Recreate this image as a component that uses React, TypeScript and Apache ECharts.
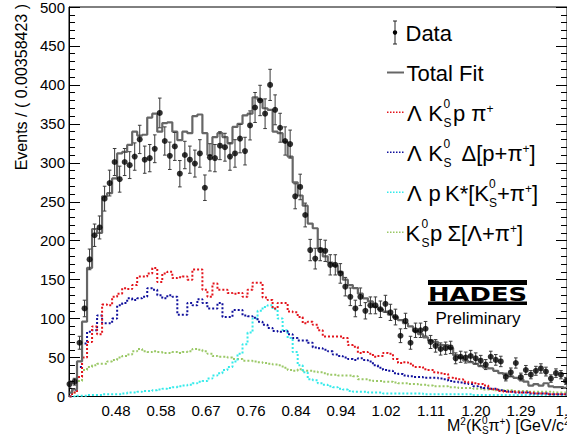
import React, { useEffect, useRef } from "react";
import * as echarts from "echarts";

const FONT = "'Liberation Sans', Arial, Helvetica, sans-serif";

// histogram binning (bin centres)
const BIN_START = 0.387;
const BIN_WIDTH = 0.01003;

const X_MIN = 0.386;
const X_MAX = 1.382;
const X_TICK_VALUES = [0.48, 0.57, 0.66, 0.75, 0.84, 0.93, 1.02, 1.11, 1.2, 1.29, 1.38];
const X_TICK_LABELS = ["0.48", "0.58", "0.67", "0.76", "0.84", "0.94", "1.02", "1.11", "1.20", "1.29", "1.4"];

const DATA_COUNTS = [
  16, 19, 69, 113, 176, 207, 217, 254, 274, 301,
  279, 301, 297, 308, 330, 304, 306, 318, 364, 328,
  309, 321, 286, 310, 304, 299, 312, 268, 307, 306,
  322, 320, 308, 312, 331, 315, 348, 371, 380, 363,
  400, 368, 345, 328, 324, 257, 269, 233, 188, 177,
  188, 187, 169, 169, 158, 141, 128, 113, 128, 110,
  117, 117, 112, 119, 108, 102, 78, 97, 69, 85,
  85, 87, 70, 65, 61, 62, 63, 49, 51, 50,
  52, 49, 46, 41, 51, 47, 45, 25, 31, 43,
  25, 34, 28, 33, 36, 32, 23, 30, 28, 20,
];

const TOTAL_FIT = [
  5, 9, 45, 96, 165, 215, 210, 257, 261, 280,
  312, 314, 323, 340, 335, 336, 358, 363, 340, 351,
  352, 340, 329, 340, 338, 360, 362, 338, 310, 333,
  338, 333, 325, 346, 350, 361, 363, 384, 381, 370,
  368, 340, 338, 327, 308, 275, 258, 245, 222, 216,
  190, 180, 172, 168, 160, 150, 143, 139, 132, 126,
  122, 115, 112, 109, 105, 102, 98, 94, 90, 84,
  80, 76, 72, 70, 66, 66, 62, 53, 50, 46,
  44, 42, 39, 37, 36, 33, 30, 28, 26, 24,
  22, 19, 14, 16, 14, 17, 13, 12, 12, 11,
];

// Λ K0S p π+ (red)
const LAMBDA_K0_P_PI = [
  0, 5, 25, 50, 70, 90, 80, 118, 117, 128,
  132, 139, 138, 143, 154, 154, 158, 165, 147, 158,
  160, 152, 153, 154, 150, 163, 163, 137, 128, 145,
  137, 137, 133, 132, 133, 128, 137, 146, 146, 127,
  124, 113, 120, 120, 109, 108, 102, 94, 96, 92,
  85, 77, 77, 77, 77, 75, 66, 64, 56, 57,
  55, 51, 52, 56, 55, 48, 43, 44, 42, 38,
  38, 35, 34, 31, 30, 29, 24, 23, 22, 19,
  18, 17, 16, 14, 10, 9, 7, 6, 6, 6,
  5, 5, 5, 4, 4, 4, 3, 3, 3, 3,
];

// Λ K0S Δ[p+π+] (blue)
const LAMBDA_K0_DELTA = [
  0, 8, 38, 68, 83, 85, 104, 94, 94, 100,
  117, 120, 126, 124, 126, 128, 139, 137, 130, 126,
  130, 128, 105, 105, 120, 117, 125, 120, 113, 113,
  120, 102, 102, 111, 111, 104, 103, 101, 96, 92,
  88, 84, 83, 84, 80, 75, 72, 72, 69, 63,
  62, 60, 58, 54, 52, 50, 48, 47, 49, 47,
  45, 40, 37, 34, 33, 30, 29, 27, 26, 25,
  25, 24, 24, 24, 23, 22, 20, 19, 18, 17,
  16, 13, 12, 11, 10, 10, 8, 7, 6, 5,
  5, 5, 4, 4, 4, 4, 3, 3, 3, 3,
];

// Λ p K*[K0S+π+] (cyan)
const LAMBDA_P_KSTAR = [
  0, 0, 1, 1, 2, 2, 2, 3, 3, 3,
  3, 4, 5, 5, 6, 7, 7, 8, 9, 10,
  11, 12, 13, 14, 15, 17, 19, 20, 23, 27,
  30, 34, 38, 45, 55, 67, 82, 100, 110, 115,
  117, 112, 100, 85, 75, 57, 40, 31, 22, 21,
  17, 15, 13, 12, 10, 9, 7, 6, 6, 6,
  5, 5, 5, 4, 4, 4, 4, 4, 4, 4,
  4, 3, 3, 3, 3, 3, 3, 3, 3, 3,
  3, 2, 2, 2, 2, 2, 2, 2, 2, 2,
  2, 2, 2, 2, 2, 2, 2, 2, 2, 2,
];

// K0S p Σ[Λ+π+] (green)
const K0_P_SIGMA = [
  0, 5, 20, 34, 38, 40, 42, 42, 45, 47,
  50, 52, 54, 58, 61, 58, 57, 58, 57, 56,
  56, 57, 56, 57, 58, 61, 60, 58, 55, 52,
  51, 51, 50, 48, 48, 46, 46, 45, 44, 43,
  42, 41, 40, 37, 34, 33, 35, 33, 33, 32,
  31, 30, 28, 28, 27, 27, 27, 26, 22, 22,
  21, 20, 20, 19, 19, 18, 17, 17, 16, 16,
  15, 15, 14, 13, 13, 13, 12, 12, 11, 11,
  11, 10, 10, 9, 9, 8, 8, 8, 8, 7,
  7, 7, 6, 6, 6, 6, 6, 5, 5, 5,
];

const C_RED = "#e3141c";
const C_BLUE = "#10109c";
const C_CYAN = "#33eaea";
const C_GREEN = "#9ac866";
const C_FIT = "#666666";

const binCenters = DATA_COUNTS.map((_, i) => BIN_START + i * BIN_WIDTH);
const toXY = (arr: number[]) => arr.map((v, i) => [binCenters[i], v]);

const labelFor = (v: number) => {
  const idx = X_TICK_VALUES.findIndex((t) => Math.abs(t - v) < 1e-6);
  return idx >= 0 ? X_TICK_LABELS[idx] : "";
};

let measureCtx: CanvasRenderingContext2D | null = null;
const measure = (s: string, size: number) => {
  if (!measureCtx) measureCtx = document.createElement("canvas").getContext("2d");
  if (!measureCtx) return s.length * size * 0.56;
  measureCtx.font = `${size}px ${FONT}`;
  return measureCtx.measureText(s).width;
};

const txt = (s: string, x: number, y: number, size: number, extra: any = {}) => ({
  type: "text",
  x,
  y,
  silent: true,
  z: 100,
  style: {
    text: s,
    x: 0,
    y: 0,
    fontSize: size,
    fontFamily: FONT,
    fill: "#000",
    align: "left",
    verticalAlign: "middle",
    ...extra,
  },
});

const ln = (x1: number, y1: number, x2: number, y2: number, stroke: string, lineWidth: number, lineDash?: number[]) => ({
  type: "line",
  silent: true,
  z: 100,
  shape: { x1, y1, x2, y2 },
  style: { stroke, lineWidth, lineDash },
});

// Segment: [text, preferred x (or null = follow), kind]; kind: main | "sup" | "stack" ("up|down")
type Seg = [string, number | null, string?];

const layoutRow = (segs: Seg[], yc: number, main: number, small: number, supDy: number, subDy: number, plusDy: number) => {
  const out: any[] = [];
  let cx = 0;
  segs.forEach(([s, x, kind]) => {
    if (x !== null) cx = Math.max(cx, x);
    if (kind === "sup") {
      out.push(txt(s, cx, yc + plusDy, small));
      cx += measure(s, small);
    } else if (kind === "stack") {
      const [up, down] = s.split("|");
      out.push(txt(up, cx, yc + supDy, small));
      out.push(txt(down, cx, yc + subDy, small));
      cx += Math.max(measure(up, small), measure(down, small));
    } else {
      out.push(txt(s, cx, yc, main));
      cx += measure(s, main);
    }
  });
  return out;
};

const LEGEND_ROWS: { y: number; color: string; segs: Seg[] }[] = [
  {
    y: 113.3,
    color: C_RED,
    segs: [["Λ", 407], ["K", 428.3], ["0|S", 443.5, "stack"], ["p π", 453], ["+", null, "sup"]],
  },
  {
    y: 153.3,
    color: C_BLUE,
    segs: [["Λ", 407], ["K", 428.3], ["0|S", 443.5, "stack"], ["Δ[p+π", 461.5], ["+", null, "sup"], ["]", null]],
  },
  {
    y: 193.3,
    color: C_CYAN,
    segs: [["Λ", 407], ["p", 428.5], ["K*[K", 445], ["0|S", null, "stack"], ["+π", null], ["+", null, "sup"], ["]", null]],
  },
  {
    y: 233.3,
    color: C_GREEN,
    segs: [["K", 405.5], ["0|S", 421.5, "stack"], ["p", 430], ["Σ[Λ+π", 447.5], ["+", null, "sup"], ["]", null]],
  },
];

const X_TITLE: Seg[] = [
  ["M", 447],
  ["2", null, "sup"],
  ["(K", null],
  ["0|S", null, "stack"],
  ["π", null],
  ["+", null, "sup"],
  [") [GeV/c", null],
  ["2", null, "sup"],
];

function buildGraphic() {
  const g: any[] = [];
  // y-axis title
  g.push({
    type: "text",
    x: 21.5,
    y: 4,
    rotation: Math.PI / 2,
    silent: true,
    z: 100,
    style: { text: "Events / ( 0.00358423 )", x: 0, y: 0, fontSize: 16, fontFamily: FONT, fill: "#000", align: "right", verticalAlign: "middle" },
  });
  // x-axis title  M²(K⁰S π⁺) [GeV/c²]
  g.push(...layoutRow(X_TITLE, 425.5, 16, 10, -5.5, 5, -4));

  // legend: Data
  g.push(ln(395, 21, 395, 44, "#222", 1));
  g.push(ln(393, 21, 397, 21, "#222", 1));
  g.push(ln(393, 44, 397, 44, "#222", 1));
  g.push({ type: "circle", silent: true, z: 100, shape: { cx: 395, cy: 32.5, r: 2.2 }, style: { fill: "#000" } });
  g.push(txt("Data", 405.5, 33.5, 22));
  // legend: Total Fit
  g.push(ln(387, 72.5, 404, 72.5, C_FIT, 2));
  g.push(txt("Total Fit", 406.5, 73, 22));
  // component rows
  LEGEND_ROWS.forEach((r) => {
    g.push(ln(387, r.y - 1, 404, r.y - 1, r.color, 1.5, [1.5, 1.5]));
    g.push(...layoutRow(r.segs, r.y, 22, 12, -9.8, 9.2, -4));
  });

  // HADES logo
  g.push({ type: "rect", silent: true, z: 100, shape: { x: 428, y: 280, width: 99, height: 5 }, style: { fill: "#000" } });
  g.push({
    type: "text",
    x: 477.5,
    y: 294,
    scaleX: 1.29,
    silent: true,
    z: 100,
    style: { text: "HADES", x: 0, y: 0, fontSize: 20, fontWeight: "bold", fontFamily: "'DejaVu Sans', sans-serif", fill: "#000", align: "center", verticalAlign: "middle" },
  });
  g.push({ type: "rect", silent: true, z: 100, shape: { x: 428, y: 301.5, width: 99, height: 3.5 }, style: { fill: "#000" } });
  g.push({
    type: "text",
    x: 478,
    y: 318,
    silent: true,
    z: 100,
    style: { text: "Preliminary", x: 0, y: 0, fontSize: 17, fontFamily: FONT, fill: "#000", align: "center", verticalAlign: "middle" },
  });
  return g;
}

const component = (name: string, color: string, arr: number[]) => ({
  name,
  type: "line",
  step: "middle",
  data: toXY(arr),
  showSymbol: false,
  symbol: "none",
  clip: true,
  z: 2,
  lineStyle: { color, width: 2, type: [2, 2] },
});

export default function App() {
  const ref = useRef<HTMLDivElement>(null);
  useEffect(() => {
    if (!ref.current) return;
    const chart = echarts.init(ref.current, null, { renderer: "svg" });
    const yAxisBase = {
      type: "value",
      min: 0,
      max: 500,
      interval: 50,
      axisLine: { show: true, lineStyle: { color: "#000", width: 1 } },
      axisTick: { show: true, inside: true, length: 11, lineStyle: { color: "#000" } },
      minorTick: { show: true, splitNumber: 5, length: 6, lineStyle: { color: "#000" } },
      splitLine: { show: false },
      minorSplitLine: { show: false },
    };
    chart.setOption({
      animation: false,
      backgroundColor: "#fff",
      grid: {
        left: 69,
        right: 0,
        top: 7,
        bottom: 39.5,
        containLabel: false,
        outerBoundsMode: "none",
        show: true,
        borderColor: "#000",
        borderWidth: 1,
        backgroundColor: "transparent",
      },
      xAxis: {
        type: "value",
        min: X_MIN,
        max: X_MAX,
        axisLine: { show: true, lineStyle: { color: "#000", width: 1 } },
        axisTick: { show: false },
        splitLine: { show: false },
        axisLabel: {
          customValues: X_TICK_VALUES,
          formatter: (v: number) => labelFor(v),
          fontSize: 15,
          fontFamily: FONT,
          color: "#000",
          margin: 6,
          showMaxLabel: true,
          showMinLabel: true,
          hideOverlap: false,
          alignMaxLabel: "center",
        },
      },
      yAxis: [
        { ...yAxisBase, position: "left", axisLabel: { fontSize: 15, fontFamily: FONT, color: "#000", margin: 4 } },
        { ...yAxisBase, position: "right", axisLabel: { show: false } },
      ],
      series: [
        component("K0S p Σ[Λ+π+]", C_GREEN, K0_P_SIGMA),
        component("Λ p K*[K0S+π+]", C_CYAN, LAMBDA_P_KSTAR),
        component("Λ K0S Δ[p+π+]", C_BLUE, LAMBDA_K0_DELTA),
        component("Λ K0S p π+", C_RED, LAMBDA_K0_P_PI),
        {
          name: "Total Fit",
          type: "line",
          step: "middle",
          data: toXY(TOTAL_FIT),
          showSymbol: false,
          symbol: "none",
          clip: true,
          z: 3,
          lineStyle: { color: C_FIT, width: 2.2 },
        },
        {
          name: "Data errors",
          type: "custom",
          z: 4,
          clip: true,
          data: DATA_COUNTS.map((v, i) => [binCenters[i], v, Math.sqrt(v)]),
          encode: { x: 0, y: 1 },
          renderItem: (_params: any, api: any) => {
            const x = api.value(0);
            const y = api.value(1);
            const e = api.value(2);
            const top = api.coord([x, y + e]);
            const bot = api.coord([x, Math.max(0, y - e)]);
            const cw = 1.8;
            const st = { stroke: "#3a3a3a", lineWidth: 1 };
            return {
              type: "group",
              children: [
                { type: "line", shape: { x1: top[0], y1: top[1], x2: bot[0], y2: bot[1] }, style: st },
                { type: "line", shape: { x1: top[0] - cw, y1: top[1], x2: top[0] + cw, y2: top[1] }, style: st },
                { type: "line", shape: { x1: bot[0] - cw, y1: bot[1], x2: bot[0] + cw, y2: bot[1] }, style: st },
              ],
            };
          },
        },
        {
          name: "Data",
          type: "scatter",
          z: 5,
          symbol: "circle",
          symbolSize: 6,
          itemStyle: { color: "#000" },
          data: toXY(DATA_COUNTS),
        },
      ],
      graphic: buildGraphic(),
    });
    return () => chart.dispose();
  }, []);
  return <div ref={ref} style={{ position: "absolute", left: 0, top: 0, width: 567, height: 436 }} />;
}
